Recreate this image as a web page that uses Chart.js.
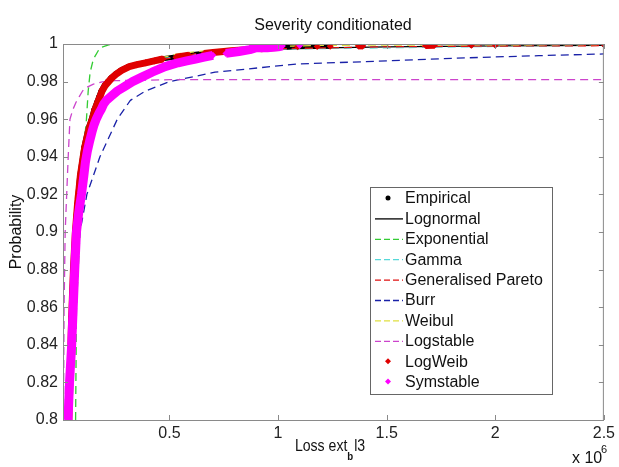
<!DOCTYPE html>
<html>
<head>
<meta charset="utf-8">
<script src="https://cdn.jsdelivr.net/npm/chart.js@4"></script>
<style>
  body { margin: 0; background: #fff; }
</style>
</head>
<body>
<canvas id="chartCdf" width="619" height="467"></canvas>
<script>
// loss values in units of 1e6, probabilities
const xTicks = [0.5, 1, 1.5, 2, 2.5];
const yTicks = [0.8, 0.82, 0.84, 0.86, 0.88, 0.9, 0.92, 0.94, 0.96, 0.98, 1];

const empiricalX = [0.035,0.042,0.048,0.056,0.065,0.075,0.087,0.1,0.106,0.125,0.14,0.152,0.165,0.175,0.185,0.2,0.215,0.23,0.25,0.275,0.31,0.345,0.385,0.42,0.46,0.52,0.58,0.65,0.74,0.87,1.0,1.09,1.18,1.24,1.37,1.39,1.68,1.72,1.89,2.0,2.5];
const empiricalY = [0.8,0.83,0.855,0.88,0.9,0.915,0.93,0.94,0.945,0.955,0.96,0.965,0.969,0.972,0.975,0.978,0.98,0.982,0.984,0.986,0.988,0.989,0.99,0.991,0.992,0.993,0.994,0.995,0.996,0.997,0.998,0.9985,0.9987,0.9988,0.999,0.999,0.9992,0.9993,0.9994,0.9995,0.9998];

const lognormalX = [0.034,0.044,0.054,0.065,0.078,0.092,0.108,0.125,0.142,0.17,0.2,0.225,0.27,0.33,0.39,0.47,0.62,0.8,1.0,1.5,2.0,2.5];
const lognormalY = [0.8,0.84,0.87,0.9,0.92,0.935,0.947,0.956,0.962,0.97,0.977,0.981,0.985,0.988,0.99,0.992,0.995,0.9965,0.9975,0.9985,0.999,0.9993];

const exponentialX = [0.068,0.072,0.08,0.088,0.1,0.11,0.118,0.126,0.135,0.15,0.18,0.22,0.265,2.5];
const exponentialY = [0.8,0.86,0.88,0.9,0.93,0.95,0.96,0.975,0.985,0.992,0.998,0.9995,1.0,1.0];

const gammaX = [0.036,0.046,0.057,0.068,0.082,0.097,0.115,0.135,0.16,0.195,0.24,0.3,0.45,0.8,2.5];
const gammaY = [0.8,0.84,0.87,0.9,0.92,0.935,0.948,0.958,0.967,0.975,0.982,0.987,0.992,0.997,0.9994];

const paretoX = [0.036,0.046,0.056,0.067,0.08,0.094,0.11,0.128,0.146,0.175,0.205,0.23,0.275,0.335,0.4,0.48,0.63,0.82,1.0,1.5,2.0,2.5];
const paretoY = [0.8,0.84,0.87,0.9,0.92,0.935,0.947,0.956,0.962,0.97,0.977,0.981,0.985,0.988,0.99,0.992,0.995,0.9965,0.9975,0.9985,0.9989,0.9991];

const burrX = [0.045,0.055,0.065,0.075,0.088,0.12,0.18,0.22,0.26,0.32,0.39,0.5,0.71,0.97,1.09,1.5,1.86,2.2,2.5];
const burrY = [0.8,0.84,0.865,0.88,0.9,0.92,0.94,0.95,0.96,0.97,0.975,0.98,0.985,0.988,0.9894,0.991,0.9926,0.9938,0.9947];

const weibulX = [0.035,0.05,0.068,0.1,0.14,0.17,0.215,0.28,0.4,0.55,0.8,1.2,2.5];
const weibulY = [0.8,0.88,0.92,0.945,0.96,0.97,0.98,0.986,0.991,0.995,0.998,0.9993,0.9997];

const logstableX = [0.012,0.015,0.02,0.027,0.034,0.042,0.055,0.07,0.085,0.1,0.12,0.15,0.19,0.25,0.5,2.5];
const logstableY = [0.8,0.86,0.9,0.92,0.94,0.96,0.965,0.969,0.972,0.975,0.977,0.9787,0.9798,0.9805,0.981,0.981];

const logweibX = [0.037,0.044,0.05,0.058,0.067,0.077,0.09,0.103,0.11,0.13,0.145,0.157,0.17,0.18,0.19,0.205,0.22,0.235,0.255,0.28,0.315,0.35,0.39,0.43,0.47,0.53,0.59,0.66,0.7,0.75,0.8,0.86,0.92,0.97,1.0,1.09,1.18,1.24,1.37,1.39,1.68,1.72,1.89,2.0,2.5];
const logweibY = [0.8,0.83,0.855,0.88,0.9,0.915,0.93,0.94,0.945,0.955,0.96,0.965,0.969,0.972,0.975,0.978,0.98,0.982,0.984,0.986,0.988,0.989,0.99,0.991,0.992,0.993,0.994,0.995,0.9955,0.996,0.9965,0.997,0.9975,0.998,0.9982,0.9985,0.9987,0.9988,0.999,0.999,0.9992,0.9993,0.9994,0.9995,0.9998];

const symstableX = [0.033,0.04,0.05,0.057,0.064,0.072,0.082,0.095,0.106,0.113,0.122,0.132,0.143,0.153,0.163,0.175,0.185,0.197,0.21,0.235,0.26,0.295,0.33,0.375,0.42,0.45,0.48,0.51,0.54,0.58,0.62,0.66,0.7,0.76,0.82,0.87,0.9,0.95,1.0,1.02,1.1];
const symstableY = [0.8,0.82,0.84,0.86,0.88,0.9,0.91,0.92,0.93,0.937,0.943,0.948,0.953,0.957,0.96,0.963,0.965,0.968,0.97,0.9725,0.975,0.9775,0.98,0.9825,0.985,0.9865,0.988,0.989,0.99,0.991,0.992,0.993,0.994,0.995,0.996,0.997,0.998,0.998,0.9985,0.999,0.9992];

const FONT = '"Liberation Sans", Arial, sans-serif';

function pts(xs, ys) {
    return xs.map((x, i) => ({ x: x, y: ys[i] }));
}

// dense markers melt into a band; far apart markers stay single
function markerBand(gap) {
    return {
        borderColor: ctx => (ctx.p1.parsed.x - ctx.p0.parsed.x > gap ? 'rgba(0,0,0,0)' : undefined)
    };
}

const dashed = [8, 5];
const datasets = [
    { label: 'Empirical', data: pts(empiricalX, empiricalY), borderColor: '#000', backgroundColor: '#000',
      borderWidth: 5, pointRadius: 2.5, pointStyle: 'circle', segment: markerBand(0.1), marker: true },
    { label: 'Lognormal', data: pts(lognormalX, lognormalY), borderColor: '#000', borderWidth: 1.3, pointRadius: 0 },
    { label: 'Exponential', data: pts(exponentialX, exponentialY), borderColor: '#33cc33', borderWidth: 1.3, borderDash: dashed, pointRadius: 0 },
    { label: 'Gamma', data: pts(gammaX, gammaY), borderColor: '#55d8d8', borderWidth: 1.3, borderDash: dashed, pointRadius: 0 },
    { label: 'Generalised Pareto', data: pts(paretoX, paretoY), borderColor: '#e01010', borderWidth: 1.3, borderDash: dashed, pointRadius: 0 },
    { label: 'Burr', data: pts(burrX, burrY), borderColor: '#1a22a8', borderWidth: 1.3, borderDash: dashed, pointRadius: 0 },
    { label: 'Weibul', data: pts(weibulX, weibulY), borderColor: '#e0e040', borderWidth: 1.3, borderDash: dashed, pointRadius: 0 },
    { label: 'Logstable', data: pts(logstableX, logstableY), borderColor: '#cc44cc', borderWidth: 1.3, borderDash: dashed, pointRadius: 0 },
    { label: 'LogWeib', data: pts(logweibX, logweibY), borderColor: '#e00000', backgroundColor: '#e00000',
      borderWidth: 7, pointRadius: 3.5, pointStyle: 'rectRot', segment: markerBand(0.06), marker: true },
    { label: 'Symstable', data: pts(symstableX, symstableY), borderColor: '#ff00ff', backgroundColor: '#ff00ff',
      borderWidth: 9, pointRadius: 3.5, pointStyle: 'rectRot', segment: markerBand(0.06), marker: true }
];
// later series on top, like the original plot
datasets.forEach((d, i) => {
    d.order = datasets.length - i;
    d.fill = false;
    d.tension = 0;
    d.pointBorderWidth = 0;
    d.pointHoverRadius = 0;
    d.borderJoinStyle = 'round';
});

const framePlugin = {
    id: 'frame',
    afterDraw(chart) {
        const { ctx, chartArea: a, scales } = chart;
        ctx.save();
        // box and inward ticks
        ctx.strokeStyle = '#8a8a8a';
        ctx.lineWidth = 1;
        ctx.strokeRect(a.left + 0.5, a.top + 0.5, a.right - a.left - 1, a.bottom - a.top);
        ctx.beginPath();
        xTicks.forEach(v => {
            const px = Math.round(scales.x.getPixelForValue(v)) + 0.5;
            ctx.moveTo(px, a.bottom); ctx.lineTo(px, a.bottom - 5);
            ctx.moveTo(px, a.top); ctx.lineTo(px, a.top + 5);
        });
        yTicks.forEach(v => {
            const py = Math.round(scales.y.getPixelForValue(v)) + 0.5;
            ctx.moveTo(a.left, py); ctx.lineTo(a.left + 5, py);
            ctx.moveTo(a.right, py); ctx.lineTo(a.right - 5, py);
        });
        ctx.stroke();

        // texts
        ctx.fillStyle = '#111';
        ctx.font = '16px ' + FONT;
        ctx.textAlign = 'center';
        ctx.textBaseline = 'middle';
        ctx.fillText('Severity conditionated', 333, 26);

        ctx.save();
        ctx.translate(17, 232);
        ctx.rotate(-Math.PI / 2);
        ctx.fillText('Probability', 0, 0);
        ctx.restore();

        // x label with subscript b, slightly condensed like the original
        ctx.save();
        ctx.textAlign = 'left';
        const p1 = 'Loss ext', p3 = 'l3';
        ctx.font = '16px ' + FONT;
        const w1 = ctx.measureText(p1).width;
        const w3 = ctx.measureText(p3).width;
        ctx.font = 'bold 11px ' + FONT;
        const w2 = ctx.measureText('b').width + 1;
        const sx = 0.88;
        const lx = 330 - sx * (w1 + w2 + w3) / 2;
        ctx.translate(lx, 0);
        ctx.scale(sx, 1);
        ctx.font = '16px ' + FONT;
        ctx.fillText(p1, 0, 447);
        ctx.font = 'bold 11px ' + FONT;
        ctx.fillText('b', w1, 457);
        ctx.font = '16px ' + FONT;
        ctx.fillText(p3, w1 + w2, 447);
        ctx.restore();

        // exponent
        ctx.textAlign = 'left';
        ctx.font = '16px ' + FONT;
        ctx.fillText('x 10', 572, 459);
        ctx.font = '11px ' + FONT;
        ctx.fillText('6', 601, 450);

        // legend
        const box = { left: 370, top: 187, right: 552, bottom: 394 };
        ctx.fillStyle = '#fff';
        ctx.fillRect(box.left, box.top, box.right - box.left, box.bottom - box.top);
        ctx.strokeStyle = '#666';
        ctx.strokeRect(box.left + 0.5, box.top + 0.5, box.right - box.left, box.bottom - box.top);
        chart.data.datasets.forEach((d, i) => {
            const y = 198 + i * 20.4;
            if (d.marker) {
                ctx.fillStyle = d.backgroundColor;
                ctx.beginPath();
                if (d.pointStyle === 'circle') {
                    ctx.arc(388, y, 2.5, 0, Math.PI * 2);
                } else {
                    ctx.moveTo(388, y - 3); ctx.lineTo(391, y); ctx.lineTo(388, y + 3); ctx.lineTo(385, y);
                    ctx.closePath();
                }
                ctx.fill();
            } else {
                ctx.strokeStyle = d.borderColor;
                ctx.lineWidth = 1.3;
                ctx.setLineDash(d.borderDash ? [6, 3] : []);
                ctx.beginPath();
                ctx.moveTo(375, y + 0.5);
                ctx.lineTo(403, y + 0.5);
                ctx.stroke();
                ctx.setLineDash([]);
            }
            ctx.fillStyle = '#111';
            ctx.font = '16px ' + FONT;
            ctx.textAlign = 'left';
            ctx.fillText(d.label, 405, y + 1);
        });
        ctx.restore();
    }
};

Chart.defaults.font.family = FONT;
Chart.defaults.font.size = 16;
Chart.defaults.color = '#222';

const ctx = document.getElementById('chartCdf').getContext('2d');
const chart = new Chart(ctx, {
    type: 'line',
    data: { datasets: datasets },
    options: {
        responsive: false,
        animation: false,
        events: [],
        layout: { padding: { left: 0, right: 12, top: 44, bottom: 0 } },
        plugins: {
            legend: { display: false },
            tooltip: { enabled: false },
            title: { display: false }
        },
        scales: {
            x: {
                type: 'linear',
                min: 0.01,
                max: 2.5,
                grid: { display: false, drawTicks: false },
                border: { display: false },
                afterFit: s => { s.height = 47; },
                afterBuildTicks: s => { s.ticks = xTicks.map(v => ({ value: v })); },
                ticks: {
                    padding: 4,
                    maxRotation: 0,
                    autoSkip: false,
                    callback: v => String(v)
                }
            },
            y: {
                type: 'linear',
                min: 0.8,
                max: 1,
                grid: { display: false, drawTicks: false },
                border: { display: false },
                afterFit: s => { s.width = 63; },
                afterBuildTicks: s => { s.ticks = yTicks.map(v => ({ value: v })); },
                ticks: {
                    padding: 5,
                    autoSkip: false,
                    callback: v => String(Number(v.toFixed(2)))
                }
            }
        }
    },
    plugins: [framePlugin]
});
</script>
</body>
</html>
